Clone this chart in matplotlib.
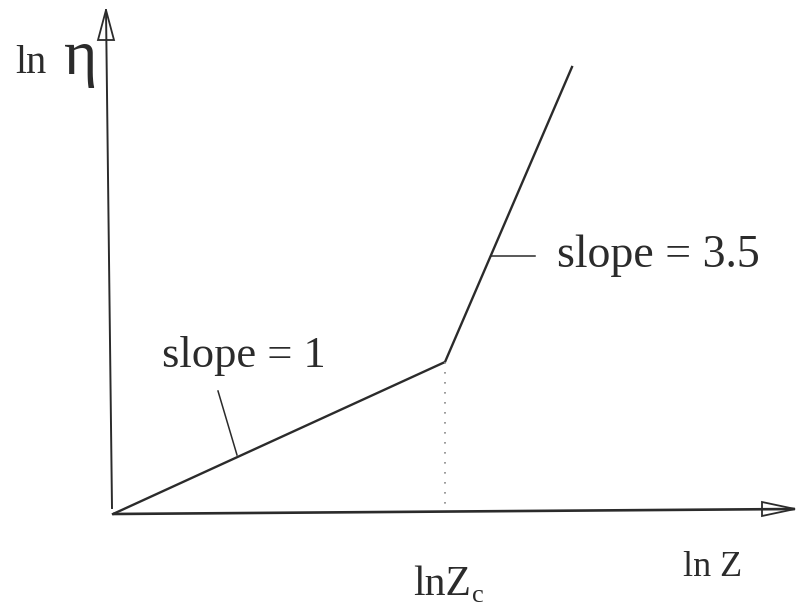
import matplotlib
matplotlib.use("Agg")
import matplotlib.pyplot as plt
from matplotlib.patches import Polygon

# schematic ln(eta) vs ln(Z): two straight pieces meeting at ln Zc
ln_z = [0, 332, 459]
ln_eta = [0, 152, 447]
ln_zc = ln_z[1]

INK = "#2b2b2b"
SERIF = ["Liberation Serif", "DejaVu Serif"]


def open_arrowhead(ax, tip, direction, length, half_width):
    dx, dy = direction
    px, py = -dy, dx
    base = (tip[0] - dx * length, tip[1] - dy * length)
    pts = [tip,
           (base[0] + px * half_width, base[1] + py * half_width),
           (base[0] - px * half_width, base[1] - py * half_width)]
    ax.add_patch(Polygon(pts, closed=True, fill=False, edgecolor=INK,
                         linewidth=1.3, joinstyle="miter"))


def main():
    fig = plt.figure(figsize=(7.99, 6.08), dpi=100)
    ax = fig.add_axes([0, 0, 1, 1])
    ax.set_xlim(-113, 686)
    ax.set_ylim(-94, 514)
    ax.axis("off")

    # axes drawn by hand, with open arrowheads
    ax.plot([0, 682], [0, 5], color=INK, linewidth=1.9, solid_capstyle="butt")
    open_arrowhead(ax, (682, 5), (1, 0), 33, 7)
    ax.plot([-1, -7], [6, 504], color=INK, linewidth=1.4)
    open_arrowhead(ax, (-7, 504), (0, 1), 30, 8)

    # the curve and the drop line at ln Zc
    ax.plot(ln_z, ln_eta, color=INK, linewidth=1.7, solid_joinstyle="miter")
    ax.plot([ln_zc, ln_zc], [ln_eta[1], 2], color="#8a8a8a", linewidth=1.2,
            linestyle=(0, (1, 5)))

    # leader lines to the slope labels
    ax.plot([105, 124], [123, 59], color=INK, linewidth=1.1)
    ax.plot([378, 422], [258, 258], color=INK, linewidth=1.1)

    ax.text(49, 147, "slope = 1", fontsize=32, family=SERIF, color=INK,
            ha="left", va="baseline")
    ax.text(444, 247, "slope = 3.5", fontsize=33, family=SERIF, color=INK,
            ha="left", va="baseline")

    ax.text(-98, 441, "ln", fontsize=29, family=SERIF, color=INK,
            ha="left", va="baseline")
    ax.text(-49, 440, "η", fontsize=46, family=SERIF, color=INK,
            ha="left", va="baseline")

    ax.text(300, -81, "lnZ", fontsize=30, family=SERIF, color=INK,
            ha="left", va="baseline")
    ax.text(359, -88, "c", fontsize=19, family=SERIF, color=INK,
            ha="left", va="baseline")
    ax.text(570, -62, "ln Z", fontsize=26, family=SERIF, color=INK,
            ha="left", va="baseline")

    fig.savefig("out.png", dpi=100, facecolor="white")


if __name__ == "__main__":
    main()
